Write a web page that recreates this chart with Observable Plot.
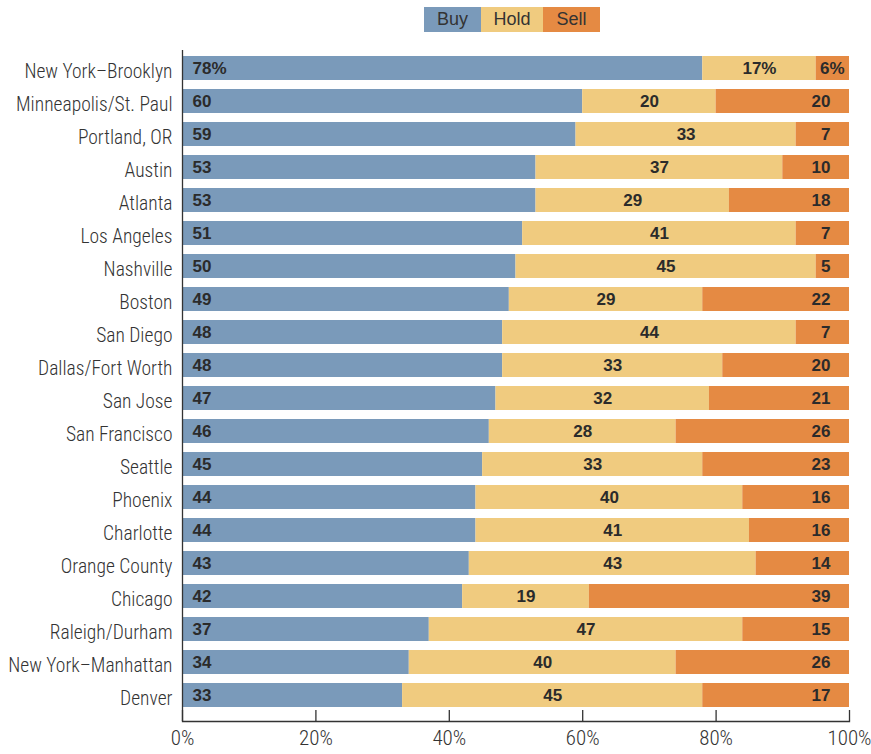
<!DOCTYPE html>
<html><head><meta charset="utf-8">
<script src="https://cdn.jsdelivr.net/npm/d3@7"></script>
<script src="https://cdn.jsdelivr.net/npm/@observablehq/plot@0.6"></script>
<style>
body{margin:0;background:#fff;}
#legend{display:flex;padding-left:424px;padding-top:7px;height:40px;box-sizing:border-box;}
.sw{height:25px;display:flex;align-items:center;justify-content:center;font:18px "Liberation Sans", Arial, sans-serif;color:#333;}
#chart svg{display:block;}
</style></head><body>
<div id="legend"></div><div id="chart"></div>
<script>
const cities = ["New York\u2013Brooklyn","Minneapolis/St. Paul","Portland, OR","Austin","Atlanta","Los Angeles","Nashville","Boston","San Diego","Dallas/Fort Worth","San Jose","San Francisco","Seattle","Phoenix","Charlotte","Orange County","Chicago","Raleigh/Durham","New York\u2013Manhattan","Denver"];
const buy  = [78,60,59,53,53,51,50,49,48,48,47,46,45,44,44,43,42,37,34,33];
const hold = [17,20,33,37,29,41,45,29,44,33,32,28,33,40,41,43,19,47,40,45];
const sell = [ 6,20, 7,10,18, 7, 5,22, 7,20,21,26,23,16,16,14,39,15,26,17];
const series = ["Buy","Hold","Sell"];
const colors = ["#7a9aba","#f0cb7f","#e58a43"];
const xTicks = [0,20,40,60,80,100];

const table = cities.map((c,i)=>({city:c,buy:buy[i],hold:hold[i],sell:sell[i],first:i===0}));

// legend
const widths = [57,62,57];
const lg = document.getElementById("legend");
series.forEach((s,i)=>{const e=document.createElement("div");e.className="sw";e.style.width=widths[i]+"px";e.style.background=colors[i];e.textContent=s;lg.appendChild(e);});

const cond = "'Liberation Sans Narrow', 'Roboto Condensed', Roboto, sans-serif";
const boldFont = "'Liberation Sans', Arial, sans-serif";
const ink = "#2b2b2b";
const fmt = (v,d)=> d.first ? v+"%" : String(v);

const chart = Plot.plot({
  width: 871, height: 714,
  marginTop: 8, marginBottom: 33, marginLeft: 182, marginRight: 22,
  style: {fontFamily: cond, color: "#333", background: "#fff"},
  x: {domain:[0,100]},
  y: {domain: cities, paddingInner: 0.28, paddingOuter: 0.14, insetBottom: 6},
  marks: [
    Plot.barX(table, {y:"city", x1:d=>0, x2:d=>d.buy, fill:colors[0]}),
    Plot.barX(table, {y:"city", x1:d=>d.buy, x2:d=>d.buy+d.hold, fill:colors[1]}),
    Plot.barX(table, {y:"city", x1:d=>d.buy+d.hold, x2:d=>100, fill:colors[2]}),
    Plot.text(table, {y:"city", x:d=>0, text:d=>fmt(d.buy,d), textAnchor:"start", dx:10, fontSize:17, fontWeight:"bold", fontFamily:boldFont, fill:ink}),
    Plot.text(table, {y:"city", x:d=>d.buy+d.hold/2, text:d=>fmt(d.hold,d), textAnchor:"middle", fontSize:17, fontWeight:"bold", fontFamily:boldFont, fill:ink}),
    Plot.text(table, {filter:d=>!d.first, y:"city", x:d=>100, text:d=>fmt(d.sell,d), textAnchor:"end", dx:-19, fontSize:17, fontWeight:"bold", fontFamily:boldFont, fill:ink}),
    Plot.text(table, {filter:d=>d.first, y:"city", x:d=>100, text:d=>fmt(d.sell,d), textAnchor:"end", dx:-5, fontSize:17, fontWeight:"bold", fontFamily:boldFont, fill:ink}),
    Plot.axisY({tickSize:0, tickPadding:10, dy:3, fontSize:19.5, fontWeight:300, label:null, fill:"#333"}),
    Plot.axisX(xTicks, {tickSize:0, tickPadding:9, fontSize:21, fontWeight:300, label:null, tickFormat:d=>d+"%", fill:"#333"}),
    Plot.ruleX(xTicks, {x:d=>d, insetTop:662, stroke:"#333", strokeWidth:1.3}),
    Plot.ruleX([0], {insetTop:2, stroke:"#333", strokeWidth:1.3}),
    Plot.frame({anchor:"bottom", stroke:"#333", strokeWidth:1.3})
  ]
});
document.getElementById("chart").appendChild(chart);
</script>
</body></html>
